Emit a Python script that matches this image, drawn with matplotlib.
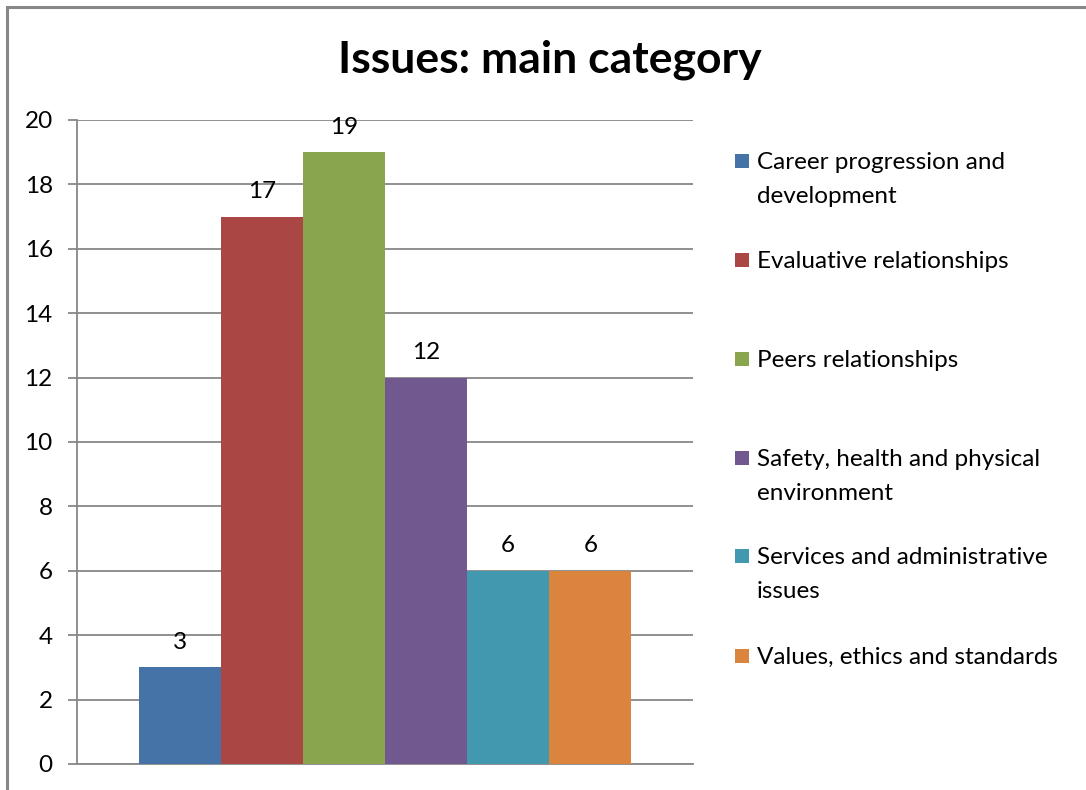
import matplotlib
matplotlib.use("Agg")
import matplotlib.pyplot as plt
from matplotlib.patches import Rectangle

categories = [
    "Career progression and\ndevelopment",
    "Evaluative relationships",
    "Peers relationships",
    "Safety, health and physical\nenvironment",
    "Services and administrative\nissues",
    "Values, ethics and standards",
]
counts = [3, 17, 19, 12, 6, 6]
colors = ["#4572A7", "#AA4643", "#89A54E", "#71588F", "#4198AF", "#DB843D"]
yticks = [0, 2, 4, 6, 8, 10, 12, 14, 16, 18, 20]

FONT = "Lato"
GRID = "#878787"
FS = 17.5
W, H = 1086, 790

fig = plt.figure(figsize=(W / 100, H / 100), dpi=100)
fig.patch.set_facecolor("white")

# chart-area frame (runs off the right and bottom edges)
fig.add_artist(Rectangle((7 / W, -0.05), 1.2, 1 - 7 / H + 0.05,
                         transform=fig.transFigure, fill=False,
                         edgecolor=GRID, linewidth=2.2))

ax = fig.add_axes([77 / W, 26 / H, 616 / W, 644 / H])

n = len(counts)
bw = 0.8 / n
xs = [(i - (n - 1) / 2) * bw for i in range(n)]
bars = ax.bar(xs, counts, width=bw, color=colors, zorder=3)

for x, v in zip(xs, counts):
    ax.annotate(str(v), (x, v), xytext=(0, 18), textcoords="offset points",
                ha="center", va="center", fontsize=FS, family=FONT,
                color="black", zorder=4)

ax.set_xlim(-0.5, 0.5)
ax.set_ylim(0, 20)
ax.set_yticks(yticks)
ax.set_yticklabels([str(t) for t in yticks], fontsize=FS, family=FONT)
ax.set_xticks([])
ax.tick_params(axis="y", length=6.5, width=1.3, color=GRID, pad=11)
ax.grid(axis="y", color=GRID, linewidth=1.3, zorder=0)
for s in ["top", "right"]:
    ax.spines[s].set_visible(False)
for s in ["left", "bottom"]:
    ax.spines[s].set_color(GRID)
    ax.spines[s].set_linewidth(1.3)

fig.text(550 / W, 1 - 60 / H, "Issues: main category", ha="center",
         va="center", fontsize=32, fontweight="bold", family=FONT)

# legend drawn entry by entry
first_line_y = [161, 260, 359, 458, 556, 656]
for lab, col, yy in zip(categories, colors, first_line_y):
    fig.add_artist(Rectangle((735 / W, 1 - (yy + 7) / H), 14 / W, 14 / H,
                             transform=fig.transFigure, facecolor=col,
                             edgecolor="none"))
    fig.text(757 / W, 1 - (yy - 9) / H, lab, ha="left", va="top",
             fontsize=FS, family=FONT, linespacing=1.75)

fig.savefig("out.png", dpi=100)
